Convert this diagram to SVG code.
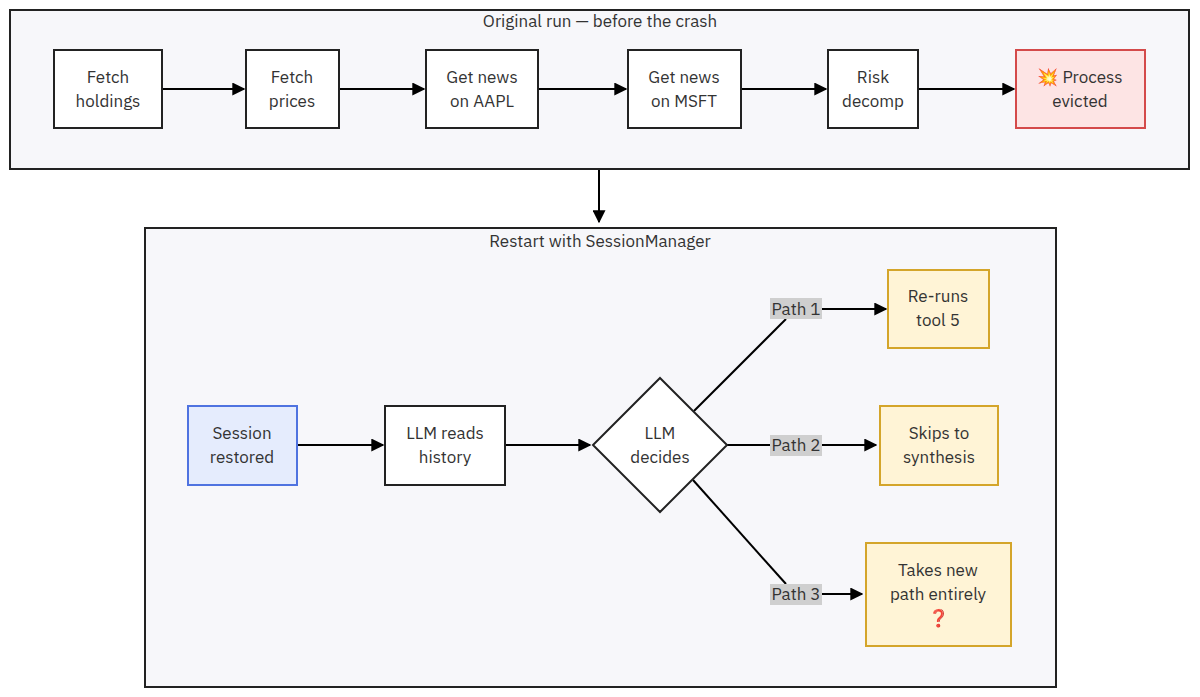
<svg xmlns="http://www.w3.org/2000/svg" width="1200" height="697" viewBox="0 0 1200 697">
<defs>
<marker id="ah" viewBox="0 0 10 10" refX="9" refY="5" markerWidth="13" markerHeight="13" markerUnits="userSpaceOnUse" orient="auto"><path d="M0,0 L10,5 L0,10 z" fill="#000"/></marker>
<style>
text{font-family:"IBM Plex Sans","Noto Sans","DejaVu Sans",sans-serif;font-size:17px;fill:#333;text-anchor:middle}
.cl{fill:#f7f7fa;stroke:#222;stroke-width:2}
.n{fill:#fff;stroke:#222;stroke-width:2}
.red{fill:#fde4e4;stroke:#d44a4a;stroke-width:2}
.blue{fill:#e5ecfd;stroke:#4f73e0;stroke-width:2}
.yel{fill:#fff4d6;stroke:#d4a52a;stroke-width:2}
.e{stroke:#000;stroke-width:2;fill:none}
.lb{fill:#cfcfcf}
</style>
</defs>
<g id="cluster-top"><rect class="cl" x="10" y="10" width="1179" height="159"/><text x="600" y="27">Original run — before the crash</text></g>
<g id="cluster-bottom"><rect class="cl" x="145" y="228" width="911" height="459"/><text x="600" y="247">Restart with SessionManager</text></g>
<g id="connectors">
<line class="e" x1="162" y1="89" x2="244" y2="89" marker-end="url(#ah)"/>
<line class="e" x1="339" y1="89" x2="424" y2="89" marker-end="url(#ah)"/>
<line class="e" x1="538" y1="89" x2="626" y2="89" marker-end="url(#ah)"/>
<line class="e" x1="741" y1="89" x2="826" y2="89" marker-end="url(#ah)"/>
<line class="e" x1="918" y1="89" x2="1014" y2="89" marker-end="url(#ah)"/>
<line class="e" x1="599" y1="170" x2="599" y2="222" marker-end="url(#ah)"/>
<line class="e" x1="297" y1="445" x2="383" y2="445" marker-end="url(#ah)"/>
<line class="e" x1="505" y1="445" x2="590" y2="445" marker-end="url(#ah)"/>
<line class="e" x1="694" y1="411" x2="786" y2="319"/>
<line class="e" x1="822" y1="309" x2="886" y2="309" marker-end="url(#ah)"/>
<line class="e" x1="727" y1="445" x2="770" y2="445"/>
<line class="e" x1="822" y1="445" x2="876" y2="445" marker-end="url(#ah)"/>
<line class="e" x1="693" y1="480" x2="786" y2="584"/>
<line class="e" x1="822" y1="594" x2="862" y2="594" marker-end="url(#ah)"/>
<rect class="lb" x="770" y="298" width="52" height="21"/><text x="796" y="315">Path 1</text>
<rect class="lb" x="770" y="435" width="52" height="21"/><text x="796" y="451">Path 2</text>
<rect class="lb" x="770" y="584" width="52" height="21"/><text x="796" y="600">Path 3</text>
</g>
<g id="n1"><rect class="n" x="54" y="50" width="108" height="78"/><text x="108" y="83">Fetch</text><text x="108" y="107">holdings</text></g>
<g id="n2"><rect class="n" x="246" y="50" width="93" height="78"/><text x="292" y="83">Fetch</text><text x="292" y="107">prices</text></g>
<g id="n3"><rect class="n" x="426" y="50" width="112" height="78"/><text x="482" y="83">Get news</text><text x="482" y="107">on AAPL</text></g>
<g id="n4"><rect class="n" x="628" y="50" width="113" height="78"/><text x="684" y="83">Get news</text><text x="684" y="107">on MSFT</text></g>
<g id="n5"><rect class="n" x="828" y="50" width="90" height="78"/><text x="873" y="83">Risk</text><text x="873" y="107">decomp</text></g>
<g id="n6"><rect class="red" x="1016" y="50" width="129" height="78"/><text x="1080" y="83">💥 Process</text><text x="1080" y="107">evicted</text></g>
<g id="s1"><rect class="blue" x="188" y="406" width="109" height="79"/><text x="242" y="439">Session</text><text x="242" y="463">restored</text></g>
<g id="s2"><rect class="n" x="385" y="406" width="120" height="79"/><text x="445" y="439">LLM reads</text><text x="445" y="463">history</text></g>
<g id="d"><polygon class="n" points="660,378 727,445 660,512 593,445"/><text x="660" y="439">LLM</text><text x="660" y="463">decides</text></g>
<g id="p1"><rect class="yel" x="888" y="270" width="101" height="78"/><text x="938" y="302">Re-runs</text><text x="938" y="326">tool 5</text></g>
<g id="p2"><rect class="yel" x="880" y="406" width="118" height="79"/><text x="939" y="439">Skips to</text><text x="939" y="463">synthesis</text></g>
<g id="p3"><rect class="yel" x="866" y="543" width="145" height="103"/><text x="938" y="576">Takes new</text><text x="938" y="600">path entirely</text><text x="938" y="624">❓</text></g>
</svg>
